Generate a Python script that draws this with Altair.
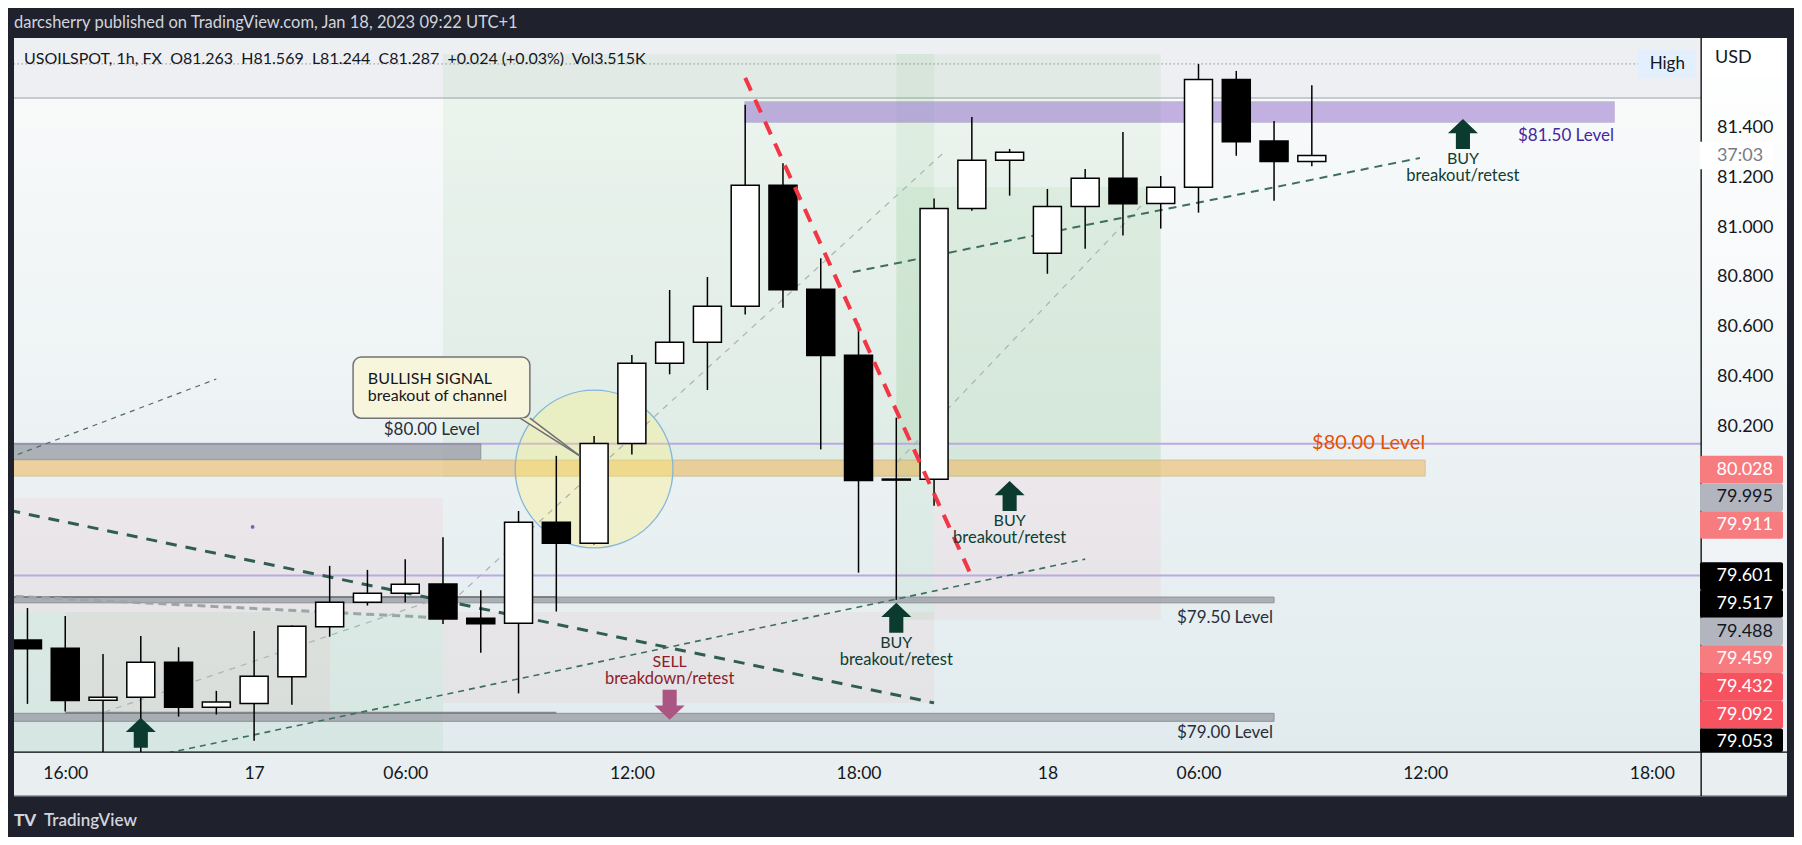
import math
import altair as alt
import pandas as pd

FONT = "Lato"
INK = "#131722"

# ---------------- candles: bar number on the time axis, OHLC ----------------
bar_index = list(range(35))
open_ = [79.345, 79.312, 79.103, 79.115, 79.256, 79.075, 79.090, 79.198, 79.398, 79.496,
         79.532, 79.569, 79.432, 79.412, 79.817, 79.733, 80.133, 80.454, 80.538, 80.683,
         81.168, 80.751, 80.486, 79.990, 79.989, 81.075, 81.268, 80.895, 81.083, 81.196,
         81.095, 81.160, 81.592, 81.345, 81.263]
high = [79.473, 79.441, 79.289, 79.361, 79.316, 79.141, 79.381, 79.403, 79.642, 79.626,
        79.669, 79.757, 79.544, 79.862, 80.083, 80.163, 80.487, 80.748, 80.800, 81.490,
        81.256, 80.875, 80.614, 80.236, 81.115, 81.441, 81.313, 81.153, 81.233, 81.381,
        81.205, 81.654, 81.626, 81.425, 81.569]
low = [79.089, 79.058, 78.880, 78.890, 79.038, 79.046, 78.941, 79.085, 79.358, 79.483,
       79.495, 79.409, 79.294, 79.131, 79.459, 79.728, 80.089, 80.410, 80.347, 80.650,
       80.677, 80.109, 79.615, 79.506, 79.883, 81.066, 81.126, 80.813, 80.913, 80.966,
       80.994, 81.058, 81.286, 81.106, 81.244]
close = [79.310, 79.102, 79.115, 79.256, 79.075, 79.096, 79.200, 79.400, 79.496, 79.532,
         79.568, 79.429, 79.410, 79.817, 79.733, 80.133, 80.454, 80.538, 80.683, 81.168,
         80.749, 80.485, 79.984, 79.986, 81.075, 81.268, 81.300, 81.083, 81.196, 81.094,
         81.160, 81.592, 81.342, 81.263, 81.287]
volume_text = "Vol3.515K"

# ---------------- axes ----------------
time_tick_bars = [1, 6, 10, 16, 22, 27, 31, 37, 43]
time_tick_labels = ["16:00", "17", "06:00", "12:00", "18:00", "18", "06:00", "12:00", "18:00"]
price_ticks = [80.2, 80.4, 80.6, 80.8, 81.0, 81.2, 81.4]
x_domain = [-0.224, 44.17]
y_domain = [78.896, 81.758]

# ---------------- price scale tags ----------------
tag_prices = [80.028, 79.995, 79.911, 79.601, 79.517, 79.488, 79.459, 79.432, 79.092, 79.053]
tag_kinds = ["loss", "neutral", "loss", "dark", "dark", "neutral", "loss", "stop", "stop", "dark"]
countdown_text = "37:03"
high_price = 81.654

# ---------------- drawings ----------------
level_names = ["$80.00 Level", "$79.50 Level", "$79.00 Level"]
level_start = [-1, -1, -1]
level_end = [12, 33, 33]
level_top = [80.131, 79.517, 79.051]
level_bottom = [80.069, 79.494, 79.019]
level_label_price = [80.186, 79.434, 78.973]

key_band = {"start": -1, "end": 37, "top": 80.066, "bottom": 80.002,
            "label": "$80.00 Level", "label_price": 80.134}
target_band = {"start": 19, "end": 42, "top": 81.501, "bottom": 81.421,
               "label": "$81.50 Level", "label_price": 81.365}
horizontal_lines = [80.132, 79.603]
entry_lines_price = [79.517, 79.053]
entry_lines_start = [-1, 1]
entry_lines_end = [14, 14]

header_band = {"top": 81.758, "bottom": 81.517}

target_zones = [(11, 30, 81.694, 79.998), (23, 30, 81.161, 79.998),
                (23, 24, 81.694, 79.426), (-1, 11, 79.457, 78.70)]
stop_zones = [(-1, 11, 79.914, 79.457), (11, 24, 79.457, 79.093),
              (24, 30, 79.998, 79.426), (1, 8, 79.457, 79.053)]

red_trend = ([19, 25], [81.598, 79.598])
down_channel = ([-1, 24], [79.881, 79.093])
up_channel_low = ([2, 28], [78.837, 79.669])
up_channel_high = ([21.85, 36.86], [80.820, 81.277])
upper_left_line = ([-1, 5], [80.046, 80.391])
grey_dash_line = ([-1, 11], [79.525, 79.433])
faint_lines = [([2.04, 10.99], [79.056, 79.517]),
               ([11.43, 24.33], [79.526, 81.309]),
               ([23.02, 29.49], [80.057, 81.087])]

circle_center = (15.0, 80.030)
signal_box = {"x0": 8.62, "x1": 13.30, "top": 80.479, "bottom": 80.234}
signal_lines = ["BULLISH SIGNAL", "breakout of channel"]
signal_text_x = 9.01
signal_text_price = [80.393, 80.323]
pointer_x = [13.04, 13.30, 14.62]
pointer_top = [80.234, 80.234, 80.083]
pointer_bottom = [80.234, 80.209, 80.083]
marker_dot = (5.96, 79.798)

buy_bars = [3, 23, 26, 38]
buy_prices = [78.973, 79.434, 79.922, 81.373]
buy_labelled = [False, True, True, True]
sell_bars = [17]
sell_prices = [79.085]

# ---------------- layout ----------------
W, H = 1687, 714
PPP = H / (y_domain[1] - y_domain[0])          # pixels per price unit
TAG_H = 27.7 / PPP

XS = alt.Scale(domain=x_domain, nice=False, zero=False)
YS = alt.Scale(domain=y_domain, nice=False, zero=False)
one = pd.DataFrame({"k": [0]})

expr = " : ".join(f"datum.value == {b} ? '{l}'" for b, l in zip(time_tick_bars, time_tick_labels)) + " : ''"
XAXIS = alt.Axis(values=time_tick_bars, labelExpr=expr, ticks=False, tickSize=0, grid=False,
                 domain=False, labelFont=FONT, labelFontSize=17.5, labelColor=INK, labelPadding=21,
                 labelBaseline="middle", labelFlush=False, labelOverlap=False, title=None, zindex=1)
YAXIS = alt.Axis(orient="right", values=price_ticks, format=".3f", ticks=False, tickSize=0,
                 grid=False, domain=False, labelFont=FONT, labelFontSize=18, labelColor=INK,
                 labelAlign="right", labelPadding=72, labelBaseline="middle", labelOverlap=False,
                 labelFlush=False, title=None, zindex=1)


def X(f="x"):
    return alt.X(f"{f}:Q", scale=XS, axis=XAXIS, title=None)


def Y(f="y"):
    return alt.Y(f"{f}:Q", scale=YS, axis=YAXIS, title=None)


def chrome_rect(x, x2, y, y2, **mk):
    return alt.Chart(one).mark_rect(**mk).encode(
        x=alt.value(x), x2=alt.value(x2), y=alt.value(y), y2=alt.value(y2))


def chrome_text(x, y, text, **mk):
    return alt.Chart(one).mark_text(text=text, font=FONT, **mk).encode(
        x=alt.value(x), y=alt.value(y))


def vgrad(c0, c1):
    return alt.Gradient(gradient="linear", x1=0, x2=0, y1=0, y2=1,
                        stops=[alt.GradientStop(color=c0, offset=0),
                               alt.GradientStop(color=c1, offset=1)])


def seg(pts, **mk):
    df = pd.DataFrame({"x": pts[0], "y": pts[1]})
    return alt.Chart(df).mark_line(clip=True, **mk).encode(x=X(), y=Y())


def rects(rows, **mk):
    df = pd.DataFrame(rows, columns=["x", "x2", "y", "y2"])
    return alt.Chart(df).mark_rect(clip=True, **mk).encode(
        x=X(), x2="x2:Q", y=Y(), y2="y2:Q")


DARK = "#1f222d"
layers = []

# page frame (dark) around the light pane; the pane colour is the chart background
layers.append(chrome_rect(-6, 1780, -30, 0, color=DARK))
layers.append(chrome_rect(-6, 1780, 758, 800, color=DARK))
layers.append(chrome_rect(-6, 0, -30, 800, color=DARK))
layers.append(chrome_rect(1773, 1780, -30, 800, color=DARK))
layers.append(chrome_rect(0, 1773, 757, 758.5, color="#9da1a8"))

# plot area and price scale backgrounds
layers.append(chrome_rect(0, W, 0, H, color=vgrad("#fafbfb", "#e1ebee")))
layers.append(chrome_rect(W, 1773, 0, H, color=vgrad("#ffffff", "#e9eff2")))

# header band of the pane
layers.append(rects([(-1, 46, header_band["top"], header_band["bottom"])], color="#eeeff3"))
hb = pd.DataFrame({"y": [header_band["bottom"]]})
layers.append(alt.Chart(hb).mark_rule(color="#b8bcc4", strokeWidth=1.5).encode(y=Y()))

# position zones
layers.append(rects(target_zones, color="#4caf50", opacity=0.075))
layers.append(rects(stop_zones, color="#f7525f", opacity=0.06))

# horizontal lines
hl = pd.DataFrame({"y": horizontal_lines})
layers.append(alt.Chart(hl).mark_rule(color="#bba9e0", strokeWidth=2).encode(y=Y()))

# grey levels
lv = pd.DataFrame({"x": level_start, "x2": level_end, "y": level_top, "y2": level_bottom,
                   "name": level_names, "ly": level_label_price})
layers.append(alt.Chart(lv).mark_rect(clip=True, color="#9598a1", opacity=0.72,
                                      stroke="#6f727a", strokeWidth=1).encode(
    x=X(), x2="x2:Q", y=Y(), y2="y2:Q"))
layers.append(alt.Chart(lv).mark_text(align="right", baseline="middle", font=FONT,
                                      fontSize=17, color="#2a2e39", dx=-1).encode(
    x=X("x2"), y=Y("ly"), text="name:N"))
el = pd.DataFrame({"x": entry_lines_start, "x2": entry_lines_end, "y": entry_lines_price})
layers.append(alt.Chart(el).mark_rule(clip=True, color="#6f7378", strokeWidth=2, opacity=0.8).encode(
    x=X(), x2="x2:Q", y=Y()))

# key $80 band
kb = pd.DataFrame([key_band])
layers.append(alt.Chart(kb).mark_rect(clip=True, color="#eebd6a", opacity=0.62,
                                      stroke="#c8a464", strokeWidth=1).encode(
    x=X("start"), x2="end:Q", y=Y("top"), y2="bottom:Q"))
# $81.50 band
tb = pd.DataFrame([target_band])
layers.append(alt.Chart(tb).mark_rect(clip=True, color="#9575cd", opacity=0.55,
                                      stroke="#8c7cb8", strokeWidth=1.5).encode(
    x=X("start"), x2="end:Q", y=Y("top"), y2="bottom:Q"))

# high marker dotted line
hd = pd.DataFrame({"x": [-1], "x2": [42.64], "y": [high_price]})
layers.append(alt.Chart(hd).mark_rule(clip=True, color="#5d606b", strokeWidth=1,
                                      strokeDash=[1, 3]).encode(x=X(), x2="x2:Q", y=Y()))

# circle
cc = pd.DataFrame({"x": [circle_center[0]], "y": [circle_center[1]]})
layers.append(alt.Chart(cc).mark_point(shape="circle", size=math.pi * 89 ** 2, filled=True,
                                       fill="#fff176", fillOpacity=0.32, stroke="#84b6dc",
                                       strokeWidth=1.3, strokeOpacity=1, opacity=1).encode(
    x=X(), y=Y()))

# faint and dashed trend lines (behind candles)
for f in faint_lines:
    layers.append(seg(f, color="#aab3b3", strokeWidth=1.2, strokeDash=[6, 6]))
layers.append(seg(upper_left_line, color="#4d6e64", strokeWidth=1.2, strokeDash=[5, 5]))
layers.append(seg(grey_dash_line, color="#9fa5a6", strokeWidth=3, strokeDash=[8, 5]))
layers.append(seg(down_channel, color="#2f5d50", strokeWidth=3, strokeDash=[11, 9]))
layers.append(seg(up_channel_low, color="#3e6e60", strokeWidth=1.6, strokeDash=[6, 5]))
layers.append(seg(up_channel_high, color="#3e6e60", strokeWidth=2, strokeDash=[8, 6]))

# candles
cd = pd.DataFrame({"bar": bar_index, "open": open_, "high": high, "low": low, "close": close})
cd["dir"] = ["up" if c >= o else "down" for o, c in zip(open_, close)]
layers.append(alt.Chart(cd).mark_rule(color="#000000", strokeWidth=1.5, clip=True).encode(
    x=X("bar"), y=Y("low"), y2="high:Q"))
layers.append(alt.Chart(cd).mark_bar(size=28, stroke="#000000", strokeWidth=1.5, clip=True).encode(
    x=X("bar"), y=Y("open"), y2="close:Q",
    color=alt.Color("dir:N", scale=alt.Scale(domain=["up", "down"], range=["#ffffff", "#000000"]),
                    legend=None)))

# red falling trend line on top of candles
layers.append(seg(red_trend, color="#f23645", strokeWidth=4, strokeDash=[14, 10]))

# callout
sb = pd.DataFrame([signal_box])
layers.append(alt.Chart(sb).mark_rect(cornerRadius=8, fill="#f7f6dc", stroke="#707378",
                                      strokeWidth=1.5).encode(
    x=X("x0"), x2="x1:Q", y=Y("top"), y2="bottom:Q"))
pa = pd.DataFrame({"x": pointer_x, "y": pointer_top, "y2": pointer_bottom})
layers.append(alt.Chart(pa).mark_area(color="#f3efc6", opacity=1).encode(x=X(), y=Y(), y2="y2:Q"))
layers.append(seg(([pointer_x[0], pointer_x[2]], [pointer_top[0], pointer_top[2]]),
                  color="#6d6f73", strokeWidth=1.5))
layers.append(seg(([pointer_x[1], pointer_x[2]], [pointer_top[1], pointer_top[2]]),
                  color="#6d6f73", strokeWidth=1.5))
st = pd.DataFrame({"x": [signal_text_x] * 2, "y": signal_text_price, "t": signal_lines})
layers.append(alt.Chart(st).mark_text(align="left", baseline="middle", font=FONT, fontSize=16,
                                      color=INK).encode(x=X(), y=Y(), text="t:N"))

# small marker
md = pd.DataFrame({"x": [marker_dot[0]], "y": [marker_dot[1]]})
layers.append(alt.Chart(md).mark_point(filled=True, size=14, color="#7e57c2", opacity=1).encode(
    x=X(), y=Y()))

# level labels
kl = pd.DataFrame({"x": [key_band["end"], target_band["end"]],
                   "y": [key_band["label_price"], target_band["label_price"]],
                   "t": [key_band["label"], target_band["label"]]})
layers.append(alt.Chart(kl.iloc[[0]]).mark_text(align="right", baseline="middle", font=FONT,
                                                fontSize=20, color="#e65100").encode(
    x=X(), y=Y(), text="t:N"))
layers.append(alt.Chart(kl.iloc[[1]]).mark_text(align="right", baseline="middle", font=FONT,
                                                fontSize=17, color="#4527a0").encode(
    x=X(), y=Y(), text="t:N"))

# arrows
UP = "M0,-1L1,-0.05L0.47,-0.05L0.47,1L-0.47,1L-0.47,-0.05L-1,-0.05Z"
DOWN = "M0,1L1,0.05L0.47,0.05L0.47,-1L-0.47,-1L-0.47,0.05L-1,0.05Z"
ba = pd.DataFrame({"x": buy_bars, "y": buy_prices, "lab": buy_labelled})
layers.append(alt.Chart(ba).mark_point(shape=UP, size=900, filled=True, color="#0b3b2e",
                                       opacity=1, strokeWidth=0, clip=True).encode(x=X(), y=Y()))
bal = ba[ba["lab"]]
layers.append(alt.Chart(bal).mark_text(text="BUY", dy=25, baseline="middle", font=FONT,
                                       fontSize=16, color="#0f3d33").encode(x=X(), y=Y()))
layers.append(alt.Chart(bal).mark_text(text="breakout/retest", dy=42, baseline="middle", font=FONT,
                                       fontSize=16.5, color="#0f3d33").encode(x=X(), y=Y()))
sa = pd.DataFrame({"x": sell_bars, "y": sell_prices})
layers.append(alt.Chart(sa).mark_point(shape=DOWN, size=900, filled=True, color="#aa5582",
                                       opacity=1, strokeWidth=0).encode(x=X(), y=Y()))
layers.append(alt.Chart(sa).mark_text(text="SELL", dy=-43, baseline="middle", font=FONT,
                                      fontSize=16, color="#8e1c2c").encode(x=X(), y=Y()))
layers.append(alt.Chart(sa).mark_text(text="breakdown/retest", dy=-26, baseline="middle", font=FONT,
                                      fontSize=16.5, color="#8e1c2c").encode(x=X(), y=Y()))

# "High" tag
hg = pd.DataFrame({"x": [42.64], "x2": [x_domain[1]], "y": [high_price + TAG_H / 2],
                   "y2": [high_price - TAG_H / 2], "yc": [high_price], "xc": [43.41]})
layers.append(alt.Chart(hg).mark_rect(color="#e3effd").encode(x=X(), x2="x2:Q", y=Y(), y2="y2:Q"))
layers.append(alt.Chart(hg).mark_text(text="High", baseline="middle", font=FONT, fontSize=17,
                                      color=INK).encode(x=X("xc"), y=Y("yc")))

# axis lines of the pane
layers.append(chrome_rect(0, 1773, H - 0.5, H + 0.8, color="#000000"))
layers.append(chrome_rect(W - 0.5, W + 0.8, 0, 758, color="#000000"))

# price tags (stacked so they do not overlap)
pos = []
for p in tag_prices:
    pos.append(p if not pos else min(p, pos[-1] - TAG_H))
tg = pd.DataFrame({"price": tag_prices, "kind": tag_kinds, "c": pos})
tg["y"] = tg["c"] + TAG_H / 2
tg["y2"] = (tg["c"] - TAG_H / 2).clip(lower=y_domain[0])
tg["label"] = [f"{p:.3f}" for p in tag_prices]
kinds = ["loss", "neutral", "stop", "dark"]
layers.append(alt.Chart(tg).mark_rect(cornerRadius=2).encode(
    x=alt.value(W - 1), x2=alt.value(W + 82), y=Y(), y2="y2:Q",
    color=alt.Color("kind:N", scale=alt.Scale(domain=kinds,
                                              range=["#f77c80", "#b2b5be", "#f7525f", "#000000"]),
                    legend=None)))
layers.append(alt.Chart(tg).mark_text(align="right", baseline="middle", font=FONT,
                                      fontSize=18).encode(
    x=alt.value(W + 72), y=Y("c"), text="label:N",
    color=alt.Color("kind:N", scale=alt.Scale(domain=kinds,
                                              range=["#ffffff", INK, "#ffffff", "#ffffff"]),
                    legend=None)))

# countdown under last price
cdn = pd.DataFrame({"y": [close[-1] + TAG_H / 2], "y2": [close[-1] - TAG_H / 2], "c": [close[-1]]})
layers.append(alt.Chart(cdn).mark_rect(color="#ffffff").encode(
    x=alt.value(W - 1), x2=alt.value(W + 72), y=Y(), y2="y2:Q"))
layers.append(alt.Chart(cdn).mark_text(text=countdown_text, baseline="middle", font=FONT,
                                       fontSize=18, color="#787b86").encode(
    x=alt.value(W + 39), y=Y("c")))

# currency box
layers.append(chrome_rect(W + 1, 1773, 0, 38, color="#ffffff"))
layers.append(chrome_text(W + 14, 20, "USD", align="left", baseline="middle", fontSize=18, color=INK))

# legend line and page texts
chg = close[-1] - close[-2]
pct = chg / close[-2] * 100
sp = "\u00a0\u00a0"
legend = (f"USOILSPOT, 1h, FX{sp}O{open_[-1]:.3f}{sp}H{high[-1]:.3f}{sp}L{low[-1]:.3f}"
          f"{sp}C{close[-1]:.3f}{sp}{chg:+.3f} ({pct:+.2f}%){sp}{volume_text}")
layers.append(chrome_text(10, 21, legend, align="left", baseline="middle", fontSize=16, color=INK))
layers.append(chrome_text(0, -15, "darcsherry published on TradingView.com, Jan 18, 2023 09:22 UTC+1",
                          align="left", baseline="middle", fontSize=16.5, color="#d1d4dc"))
layers.append(chrome_text(0, 783, "TV", align="left", baseline="middle", fontSize=17,
                          fontWeight=900, color="#d1d4dc"))
layers.append(chrome_text(30, 783, "TradingView", align="left", baseline="middle", fontSize=17,
                          fontWeight=600, color="#d1d4dc"))

chart = alt.layer(*layers).resolve_scale(color="independent").properties(
    width=W, height=H,
    padding={"left": 6, "top": 30, "right": 93, "bottom": 85},
    autosize=alt.AutoSizeParams(type="none"),
    background="#e9eff1",
).configure_view(strokeWidth=0)

chart.save("out.html", embed_options={"renderer": "svg", "actions": False})
